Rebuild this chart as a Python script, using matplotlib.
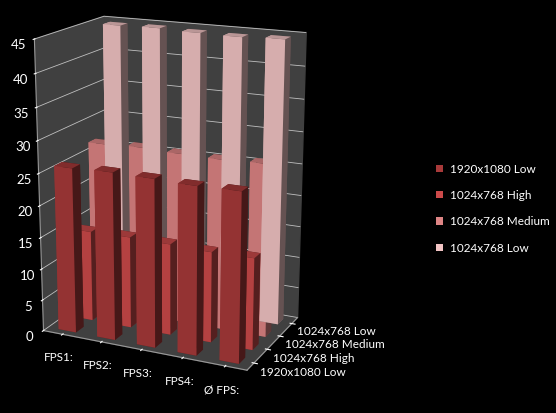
import matplotlib
matplotlib.use("Agg")
import matplotlib.pyplot as plt
import numpy as np
from matplotlib.patches import Patch

plt.rcParams["font.family"] = ["Lato", "DejaVu Sans"]

categories = ["FPS1:", "FPS2:", "FPS3:", "FPS4:", "Ø FPS:"]
series_names = ["1920x1080 Low", "1024x768 High", "1024x768 Medium", "1024x768 Low"]
v_1920_low = [26.0, 26.2, 26.1, 25.9, 26.0]
v_1024_high = [14.5, 14.6, 14.5, 14.3, 14.4]
v_1024_med = [27.0, 27.2, 27.0, 26.9, 27.1]
v_1024_low = [44.5, 44.6, 44.4, 44.3, 44.5]
series_values = [v_1920_low, v_1024_high, v_1024_med, v_1024_low]
colors = ["#A83A3A", "#CC4A4A", "#DE8585", "#F2C4C4"]
z_ticks = list(range(0, 50, 5))

fig = plt.figure(figsize=(5.56, 4.13), dpi=100, facecolor="black")
ax = fig.add_axes([-0.05, 0.0, 0.70, 1.08], projection="3d", facecolor="black")
ax.set_proj_type("persp", focal_length=0.62)
ax.view_init(elev=17, azim=-65)
ax.set_box_aspect((5.2, 3.3, 7.0))

bw = 0.45
for si, vals in enumerate(series_values[::-1]):
    si_real = len(series_values) - 1 - si
    xs = np.arange(len(categories)) - bw / 2
    ys = np.full(len(categories), si_real) - bw / 2
    ax.bar3d(xs, ys, np.zeros(len(categories)), bw, bw, vals,
             color=colors[si_real], shade=True, edgecolor="none")

ax.set_xlim(-0.5, len(categories) - 0.5)
ax.set_ylim(-0.5, len(series_names) - 0.5)
ax.set_zlim(0, 45)
ax.set_xticks(range(len(categories)))
ax.set_xticklabels(categories, color="white", fontsize=8.5)
ax.set_yticks(range(len(series_names)))
ax.set_yticklabels(series_names, color="white", fontsize=8.5, ha="left", va="center")
ax.set_zticks(z_ticks)
ax.set_zticklabels([str(t) for t in z_ticks], color="white", fontsize=9.5)
ax.zaxis.set_ticks_position("lower")
for axis in (ax.xaxis, ax.yaxis, ax.zaxis):
    axis.set_pane_color((0.25, 0.25, 0.25, 1.0))
    axis._axinfo["grid"]["color"] = (0.75, 0.75, 0.75, 1)
    axis._axinfo["grid"]["linewidth"] = 0.6
    axis.line.set_color("#999999")
    axis._axinfo["tick"]["color"] = "#999999"
ax.xaxis._axinfo["grid"]["linewidth"] = 0
ax.yaxis._axinfo["grid"]["linewidth"] = 0
ax.tick_params(colors="white", pad=0)
ax.yaxis.set_tick_params(pad=-4)

handles = [Patch(facecolor=c, edgecolor="none", label=n) for c, n in zip(colors, series_names)]
fig.legend(handles=handles, loc="center left", bbox_to_anchor=(0.765, 0.495),
           frameon=False, labelcolor="white", fontsize=8.5, handlelength=0.6,
           handleheight=0.6, labelspacing=1.3, handletextpad=0.6)

fig.savefig("out.png", dpi=100, facecolor="black")
